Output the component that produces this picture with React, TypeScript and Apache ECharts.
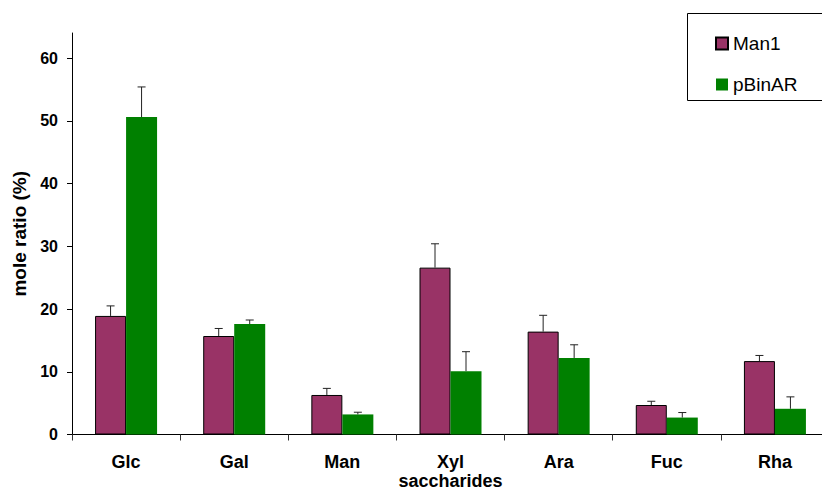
import React, { useEffect, useRef } from "react";
import * as echarts from "echarts";

const categories = ["Glc", "Gal", "Man", "Xyl", "Ara", "Fuc", "Rha"];
const man1Values = [18.9, 15.7, 6.3, 26.6, 16.4, 4.7, 11.7];
const pbinarValues = [50.6, 17.6, 3.2, 10.1, 12.2, 2.7, 4.1];
const man1Errors = [1.6, 1.2, 1.05, 3.8, 2.6, 0.6, 0.9];
const pbinarErrors = [4.8, 0.65, 0.35, 3.1, 2.1, 0.8, 1.9];
const yTickValues = [0, 10, 20, 30, 40, 50, 60];

const BAR_W = 31;
const FONT = "'Liberation Sans', Arial, Helvetica, sans-serif";

function errorSeries(name: string, values: number[], errs: number[], offset: number) {
  return {
    name: name + "-err",
    type: "custom",
    z: 5,
    encode: { x: 0, y: 1 },
    data: values.map((v, i) => [i, v, errs[i]]),
    renderItem: (params: any, api: any) => {
      const i = api.value(0);
      const v = api.value(1);
      const e = api.value(2);
      const base = api.coord([i, v]);
      const top = api.coord([i, v + e]);
      const x = base[0] + offset;
      return {
        type: "group",
        children: [
          {
            type: "line",
            shape: { x1: x, y1: base[1], x2: x, y2: top[1] },
            style: { stroke: "#222", lineWidth: 1 },
          },
          {
            type: "line",
            shape: { x1: x - 4, y1: top[1], x2: x + 4, y2: top[1] },
            style: { stroke: "#222", lineWidth: 1 },
          },
        ],
      };
    },
  };
}

export default function App() {
  const ref = useRef<HTMLDivElement>(null);
  useEffect(() => {
    if (!ref.current) return;
    const chart = echarts.init(ref.current, undefined, { renderer: "svg" });
    chart.setOption({
      animation: false,
      backgroundColor: "#ffffff",
      grid: {
        left: 72,
        top: 33,
        width: 757,
        height: 401.5,
        containLabel: false,
        outerBoundsMode: "none",
      },
      legend: {
        data: ["Man1", "pBinAR"],
        orient: "vertical",
        left: 710,
        top: 29,
        itemWidth: 12,
        itemHeight: 12,
        itemGap: 22,
        icon: "rect",
        textStyle: { fontFamily: FONT, fontSize: 19, color: "#000", lineHeight: 19 },
      },
      graphic: [
        {
          type: "rect",
          shape: { x: 687.5, y: 13.5, width: 200, height: 87 },
          style: { fill: "none", stroke: "#000", lineWidth: 1 },
          z: 10,
        },
      ],
      xAxis: {
        type: "category",
        data: categories,
        boundaryGap: true,
        name: "saccharides",
        nameLocation: "middle",
        nameGap: 37,
        nameMoveOverlap: false,
        nameTextStyle: {
          fontFamily: FONT,
          fontSize: 18,
          lineHeight: 18,
          fontWeight: "bold",
          color: "#000",
        },
        axisLine: { lineStyle: { color: "#000", width: 1 } },
        axisTick: { show: true, length: 6, lineStyle: { color: "#333" } },
        axisLabel: {
          margin: 18,
          fontFamily: FONT,
          fontSize: 18,
          lineHeight: 18,
          fontWeight: "bold",
          color: "#000",
        },
      },
      yAxis: {
        type: "value",
        min: 0,
        max: 64,
        interval: 10,
        name: "mole ratio (%)",
        nameLocation: "middle",
        nameGap: 42,
        nameRotate: 90,
        nameTextStyle: { fontFamily: FONT, fontSize: 19, fontWeight: "bold", color: "#000" },
        splitLine: { show: false },
        axisLine: { show: true, lineStyle: { color: "#000", width: 1 } },
        axisTick: { show: true, length: 5, customValues: yTickValues, lineStyle: { color: "#000" } },
        axisLabel: {
          customValues: yTickValues,
          margin: 14,
          fontFamily: FONT,
          fontSize: 16,
          fontWeight: "bold",
          color: "#000",
        },
      },
      series: [
        {
          name: "Man1",
          type: "bar",
          barWidth: BAR_W,
          barGap: "0%",
          data: man1Values,
          itemStyle: { color: "#993366", borderColor: "#000", borderWidth: 1 },
        },
        {
          name: "pBinAR",
          type: "bar",
          barWidth: BAR_W,
          barGap: "0%",
          data: pbinarValues,
          itemStyle: { color: "#008000", borderWidth: 0 },
        },
        errorSeries("Man1", man1Values, man1Errors, -BAR_W / 2),
        errorSeries("pBinAR", pbinarValues, pbinarErrors, BAR_W / 2),
      ],
    });
    return () => chart.dispose();
  }, []);
  return (
    <div
      ref={ref}
      style={{ position: "fixed", left: 0, top: 0, width: 822, height: 493, background: "#fff" }}
    />
  );
}
